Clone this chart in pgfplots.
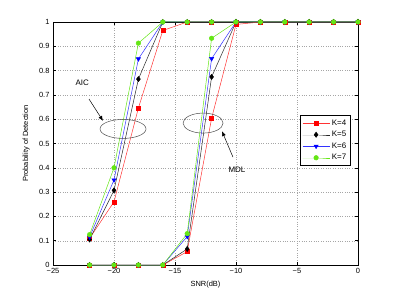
\documentclass[border=0pt]{standalone}
\usepackage{pgfplots}
\pgfplotsset{compat=1.18}
\usetikzlibrary{arrows.meta}
\usepackage{fontspec}
\setmainfont{Liberation Sans}
\definecolor{mygreen}{RGB}{100,230,20}
\begin{document}
\begin{tikzpicture}
\begin{axis}[
  at={(0,0)}, anchor=south west,
  scale only axis, width=305bp, height=243bp,
  xmin=-25, xmax=0, ymin=0, ymax=1,
  xtick={-25,-20,-15,-10,-5,0},
  xticklabels={−25,−20,−15,−10,−5,0},
  ytick={0,0.1,...,1},
  yticklabels={0,0.1,0.2,0.3,0.4,0.5,0.6,0.7,0.8,0.9,1},
  tick align=inside,
  major tick length=3bp,
  grid=major,
  grid style={dotted, gray!70, line width=0.4pt},
  axis line style={line width=0.6pt},
  tick style={line width=0.5pt, black},
  ticklabel style={font=\fontsize{7.5}{8}\selectfont},
  label style={font=\fontsize{7.5}{8}\selectfont},
  xlabel={SNR(dB)},
  ylabel={Probability of Detection},
  xlabel style={at={(axis description cs:0.5,-0.082)}, anchor=center},
  ylabel style={at={(axis description cs:-0.088,0.5)}, anchor=center},
  legend style={at={(0.977,0.617)}, anchor=north east, font=\fontsize{8}{9}\selectfont,
    draw=black, line width=0.5pt, row sep=0.5pt, inner sep=2.5pt},
  legend image code/.code={\draw[mark repeat=2, mark phase=2] plot coordinates {(0bp,0bp) (13.5bp,0bp) (27bp,0bp)};},
  legend cell align=left,
  every axis plot/.append style={line width=0.5pt},
]
% AIC group
\addplot[red!80, mark=square*, mark size=2pt, mark options={red, solid}] coordinates {
(-22,0.11) (-20,0.26) (-18,0.646) (-16,0.965) (-14,1) (-12,1) (-10,1) (-8,1) (-6,1) (-4,1) (-2,1) (0,1)};
\addlegendentry{K=4}
\addplot[black!85, mark=diamond*, mark size=2.6pt, mark options={black, solid}] coordinates {
(-22,0.105) (-20,0.307) (-18,0.765) (-16,1) (-14,1) (-12,1) (-10,1) (-8,1) (-6,1) (-4,1) (-2,1) (0,1)};
\addlegendentry{K=5}
\addplot[blue!80, mark=triangle*, mark size=2.4pt, mark options={blue, solid, rotate=180}] coordinates {
(-22,0.115) (-20,0.35) (-18,0.848) (-16,1) (-14,1) (-12,1) (-10,1) (-8,1) (-6,1) (-4,1) (-2,1) (0,1)};
\addlegendentry{K=6}
\addplot[mygreen, mark=*, mark size=2.3pt, mark options={mygreen, solid}] coordinates {
(-22,0.125) (-20,0.40) (-18,0.913) (-16,1) (-14,1) (-12,1) (-10,1) (-8,1) (-6,1) (-4,1) (-2,1) (0,1)};
\addlegendentry{K=7}
% MDL group
\addplot[red!80, mark=square*, mark size=2pt, mark options={red, solid}, forget plot] coordinates {
(-22,0) (-20,0) (-18,0) (-16,0) (-14,0.055) (-12,0.604) (-10,0.99) (-8,1) (-6,1) (-4,1) (-2,1) (0,1)};
\addplot[black!85, mark=diamond*, mark size=2.6pt, mark options={black, solid}, forget plot] coordinates {
(-22,0) (-20,0) (-18,0) (-16,0) (-14,0.066) (-12,0.774) (-10,1) (-8,1) (-6,1) (-4,1) (-2,1) (0,1)};
\addplot[blue!80, mark=triangle*, mark size=2.4pt, mark options={blue, solid, rotate=180}, forget plot] coordinates {
(-22,0) (-20,0) (-18,0) (-16,0) (-14,0.117) (-12,0.849) (-10,1) (-8,1) (-6,1) (-4,1) (-2,1) (0,1)};
\addplot[mygreen, mark=*, mark size=2.3pt, mark options={mygreen, solid}, forget plot] coordinates {
(-22,0) (-20,0) (-18,0) (-16,0) (-14,0.129) (-12,0.933) (-10,1) (-8,1) (-6,1) (-4,1) (-2,1) (0,1)};
% annotations
\draw[black!70, line width=0.5pt] (axis cs:-19.26,0.56) ellipse [x radius=23bp, y radius=9.5bp];
\draw[black!70, line width=0.5pt] (axis cs:-12.70,0.584) ellipse [x radius=20bp, y radius=10bp];
\node[font=\fontsize{8}{9}\selectfont] at (axis cs:-22.6,0.749) {AIC};
\node[font=\fontsize{8}{9}\selectfont] at (axis cs:-9.92,0.391) {MDL};
\draw[-{Latex[length=5bp,width=4bp]}, line width=0.5pt] (axis cs:-22.05,0.683) -- (axis cs:-20.9,0.593);
\draw[-{Latex[length=5bp,width=4bp]}, line width=0.5pt] (axis cs:-10.25,0.444) -- (axis cs:-11.15,0.551);
\end{axis}
\useasboundingbox (-53bp,-34bp) rectangle (344bp,265bp);
\end{tikzpicture}
\end{document}
